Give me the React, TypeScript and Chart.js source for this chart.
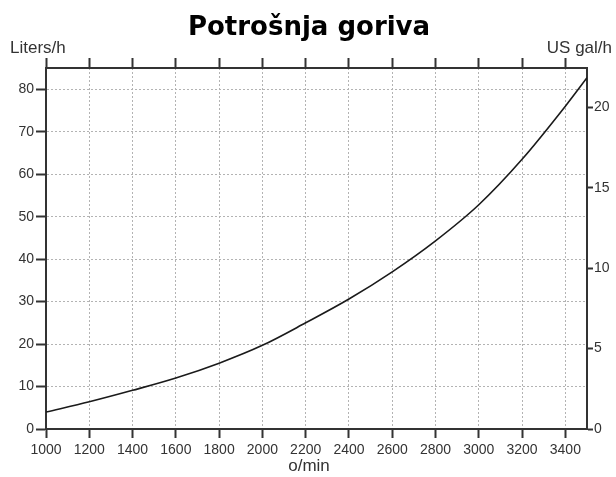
import React, { useEffect, useRef } from "react";
import { Chart, registerables } from "chart.js";

Chart.register(...registerables);

const rpm = [1000, 1200, 1400, 1600, 1800, 2000, 2200, 2400, 2600, 2800, 3000, 3200, 3400, 3500];
const litersPerHour = [4.0, 6.4, 9.1, 12.0, 15.5, 19.7, 25.0, 30.6, 37.0, 44.3, 52.8, 63.5, 76.0, 82.7];

const titleText = "Potrošnja goriva";
const leftUnit = "Liters/h";
const rightUnit = "US gal/h";
const xUnit = "o/min";

const X_MIN = 1000;
const X_MAX = 3500;
const X_STEP = 200;
const Y_MIN = 0;
const Y_MAX = 85;
const Y_STEP = 10;
const LITERS_PER_GALLON = 3.785;
const Y2_STEP = 5;

const TICK_FONT = { family: "'Liberation Sans', Arial, sans-serif", size: 14 };
const TICK_COLOR = "#333";
const GRID_COLOR = "#b3b3b3";
const AXIS_COLOR = "#333";

export default function App() {
  const canvasRef = useRef<HTMLCanvasElement | null>(null);

  useEffect(() => {
    const canvas = canvasRef.current;
    if (!canvas) return;

    const textPlugin = {
      id: "textPlugin",
      afterDraw(chart: any) {
        const ctx = chart.ctx;
        ctx.save();
        ctx.fillStyle = "#000";
        ctx.font = "bold 26px 'DejaVu Sans', Verdana, sans-serif";
        ctx.textAlign = "center";
        ctx.textBaseline = "alphabetic";
        ctx.fillText(titleText, 309, 35);

        ctx.fillStyle = TICK_COLOR;
        ctx.font = "17px 'Liberation Sans', Arial, sans-serif";
        ctx.textAlign = "left";
        ctx.fillText(leftUnit, 10, 53);
        ctx.textAlign = "right";
        ctx.fillText(rightUnit, 612, 53);
        ctx.textAlign = "center";
        ctx.fillText(xUnit, 309, 471);
        ctx.restore();
      },
    };

    const chart = new Chart(canvas, {
      type: "line",
      data: {
        datasets: [
          {
            data: rpm.map((r, i) => ({ x: r, y: litersPerHour[i] })),
            borderColor: "#1a1a1a",
            borderWidth: 1.6,
            pointRadius: 0,
            fill: false,
            cubicInterpolationMode: "monotone",
            xAxisID: "x",
            yAxisID: "y",
          },
        ],
      },
      plugins: [textPlugin],
      options: {
        responsive: false,
        animation: false,
        layout: { padding: 0 },
        plugins: {
          legend: { display: false },
          title: { display: false },
          tooltip: { enabled: false },
        },
        scales: {
          x: {
            type: "linear",
            position: "bottom",
            min: X_MIN,
            max: X_MAX,
            afterFit: (s: any) => {
              s.height = 48;
            },
            ticks: {
              stepSize: X_STEP,
              includeBounds: false,
              autoSkip: false,
              maxRotation: 0,
              padding: 4,
              color: TICK_COLOR,
              font: TICK_FONT,
              callback: (v: any) => String(v),
            },
            grid: {
              color: GRID_COLOR,
              lineWidth: 1,
              tickLength: 9,
              tickColor: AXIS_COLOR,
              tickWidth: 2,
            },
            border: { display: true, color: AXIS_COLOR, width: 2, dash: [2, 2] },
          },
          x2: {
            type: "linear",
            position: "top",
            min: X_MIN,
            max: X_MAX,
            afterFit: (s: any) => {
              s.height = 68;
            },
            ticks: { stepSize: X_STEP, includeBounds: false, display: false, autoSkip: false },
            grid: {
              drawOnChartArea: false,
              tickLength: 10,
              tickColor: AXIS_COLOR,
              tickWidth: 2,
            },
            border: { display: true, color: AXIS_COLOR, width: 2 },
          },
          y: {
            type: "linear",
            position: "left",
            min: Y_MIN,
            max: Y_MAX,
            afterFit: (s: any) => {
              s.width = 46;
            },
            ticks: {
              stepSize: Y_STEP,
              includeBounds: false,
              padding: 2,
              color: TICK_COLOR,
              font: TICK_FONT,
              callback: (v: any) => String(v),
            },
            grid: {
              color: GRID_COLOR,
              lineWidth: 1,
              tickLength: 10,
              tickColor: AXIS_COLOR,
              tickWidth: 2,
            },
            border: { display: true, color: AXIS_COLOR, width: 2, dash: [2, 2] },
          },
          y2: {
            type: "linear",
            position: "right",
            min: Y_MIN / LITERS_PER_GALLON,
            max: Y_MAX / LITERS_PER_GALLON,
            afterFit: (s: any) => {
              s.width = 29;
            },
            ticks: {
              stepSize: Y2_STEP,
              includeBounds: false,
              padding: 1,
              color: TICK_COLOR,
              font: TICK_FONT,
              callback: (v: any) => String(v),
            },
            grid: {
              drawOnChartArea: false,
              tickLength: 6,
              tickColor: AXIS_COLOR,
              tickWidth: 2,
            },
            border: { display: true, color: AXIS_COLOR, width: 2 },
          },
        },
      } as any,
    });

    return () => {
      chart.destroy();
    };
  }, []);

  return (
    <div style={{ position: "absolute", left: 0, top: 0, width: 616, height: 477, background: "#fff" }}>
      <canvas ref={canvasRef} width={616} height={477} />
    </div>
  );
}
